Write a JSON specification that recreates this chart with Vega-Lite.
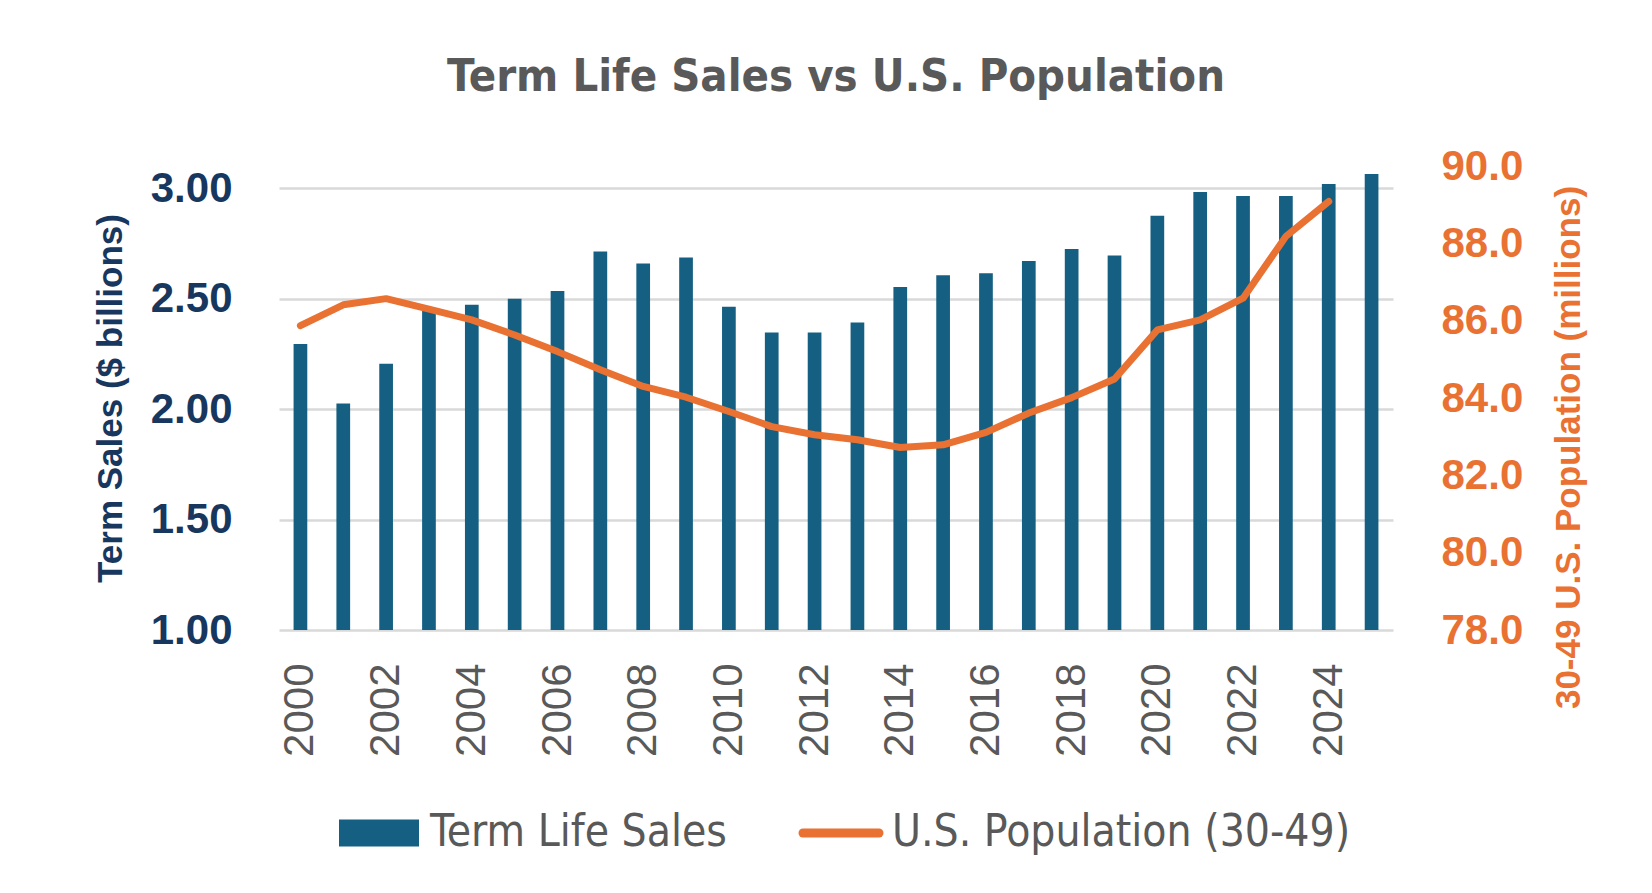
{
  "$schema": "https://vega.github.io/schema/vega-lite/v6.json",
  "width": 1114,
  "height": 464,
  "autosize": {"type": "none"},
  "padding": {"left": 279, "top": 166, "right": 259, "bottom": 263},
  "background": "white",
  "title": {
    "text": "Term Life Sales vs U.S. Population",
    "font": "DejaVu Sans Condensed",
    "fontWeight": "bold",
    "fontSize": 45,
    "color": "#595959",
    "frame": "group",
    "anchor": "middle",
    "baseline": "alphabetic",
    "offset": 9
  },
  "config": {
    "view": {"stroke": null},
    "font": "Liberation Sans"
  },
  "data": {
    "values": [
      {"year": 2000, "sales": 2.294, "pop": 85.87},
      {"year": 2001, "sales": 2.025, "pop": 86.41},
      {"year": 2002, "sales": 2.205, "pop": 86.57},
      {"year": 2003, "sales": 2.45, "pop": 86.30},
      {"year": 2004, "sales": 2.472, "pop": 86.02},
      {"year": 2005, "sales": 2.499, "pop": 85.63},
      {"year": 2006, "sales": 2.534, "pop": 85.20},
      {"year": 2007, "sales": 2.713, "pop": 84.73},
      {"year": 2008, "sales": 2.659, "pop": 84.30},
      {"year": 2009, "sales": 2.686, "pop": 84.02},
      {"year": 2010, "sales": 2.463, "pop": 83.65},
      {"year": 2011, "sales": 2.347, "pop": 83.26},
      {"year": 2012, "sales": 2.347, "pop": 83.05},
      {"year": 2013, "sales": 2.392, "pop": 82.92},
      {"year": 2014, "sales": 2.552, "pop": 82.72},
      {"year": 2015, "sales": 2.606, "pop": 82.79},
      {"year": 2016, "sales": 2.615, "pop": 83.11},
      {"year": 2017, "sales": 2.670, "pop": 83.61},
      {"year": 2018, "sales": 2.724, "pop": 84.01},
      {"year": 2019, "sales": 2.695, "pop": 84.49},
      {"year": 2020, "sales": 2.875, "pop": 85.76},
      {"year": 2021, "sales": 2.982, "pop": 86.02},
      {"year": 2022, "sales": 2.964, "pop": 86.58},
      {"year": 2023, "sales": 2.964, "pop": 88.18},
      {"year": 2024, "sales": 3.019, "pop": 89.08},
      {"year": 2025, "sales": 3.064, "pop": null}
    ]
  },
  "encoding": {
    "x": {
      "field": "year",
      "type": "ordinal",
      "scale": {"paddingInner": 0.68, "paddingOuter": 0.34},
      "axis": {
        "title": null,
        "values": [2000, 2002, 2004, 2006, 2008, 2010, 2012, 2014, 2016, 2018, 2020, 2022, 2024],
        "labelAngle": 270,
        "labelFontSize": 42,
        "labelFont": "Liberation Sans",
        "labelColor": "#595959",
        "labelPadding": 33,
        "ticks": false,
        "tickSize": 0,
        "domain": false,
        "grid": false
      }
    }
  },
  "layer": [
    {
      "mark": {"type": "bar"},
      "encoding": {
        "y": {
          "field": "sales",
          "type": "quantitative",
          "scale": {"domain": [1, 3.1], "zero": false, "nice": false},
          "axis": {
            "orient": "left",
            "values": [1, 1.5, 2, 2.5, 3],
            "format": ".2f",
            "title": "Term Sales ($ billions)",
            "titleFont": "Liberation Sans",
            "titleFontSize": 35,
            "titleFontWeight": "bold",
            "titleColor": "#17375E",
            "titleAngle": 270,
            "titleAlign": "center",
            "titleBaseline": "middle",
            "titleX": -169,
            "titleY": 232,
            "labelFont": "Liberation Sans",
            "labelFontSize": 42,
            "labelFontWeight": "bold",
            "labelColor": "#17375E",
            "labelPadding": 47,
            "ticks": false,
            "tickSize": 0,
            "domain": false,
            "grid": true,
            "gridColor": "#d9d9d9",
            "gridWidth": 2.5
          }
        },
        "y2": {"datum": 1},
        "color": {
          "datum": "Term Life Sales",
          "type": "nominal",
          "scale": {
            "domain": ["Term Life Sales", "U.S. Population (30-49)"],
            "range": ["#156082", "#E97132"]
          },
          "legend": {
            "title": null,
            "orient": "none",
            "legendX": 78,
            "legendY": 645,
            "direction": "horizontal",
            "columns": 2,
            "columnPadding": 58,
            "padding": 0,
            "symbolSize": 6400,
            "labelOffset": 29,
            "labelLimit": 0,
            "labelFont": "DejaVu Sans Condensed",
            "labelFontSize": 44,
            "labelColor": "#595959",
            "labelBaseline": "middle",
            "encode": {
              "symbols": {
                "update": {
                  "shape": {"signal": "datum.value === 'Term Life Sales' ? 'M-1,-0.34H1V0.34H-1Z' : 'M-0.95,0H0.95'"},
                  "fill": {"signal": "datum.value === 'Term Life Sales' ? '#156082' : 'transparent'"},
                  "stroke": {"signal": "datum.value === 'Term Life Sales' ? 'transparent' : '#E97132'"},
                  "strokeWidth": {"signal": "datum.value === 'Term Life Sales' ? 0 : 9"},
                  "strokeCap": {"value": "round"},
                  "opacity": {"value": 1}
                }
              }
            }
          }
        }
      }
    },
    {
      "transform": [{"filter": "datum.pop != null"}],
      "mark": {"type": "line", "strokeWidth": 7, "strokeCap": "round", "strokeJoin": "round"},
      "encoding": {
        "y": {
          "field": "pop",
          "type": "quantitative",
          "scale": {"domain": [78, 90], "zero": false, "nice": false},
          "axis": {
            "orient": "right",
            "values": [78, 80, 82, 84, 86, 88, 90],
            "format": ".1f",
            "title": "30-49 U.S. Population (millions)",
            "titleFont": "Liberation Sans",
            "titleFontSize": 35,
            "titleFontWeight": "bold",
            "titleColor": "#E97132",
            "titleAngle": 270,
            "titleAlign": "center",
            "titleBaseline": "middle",
            "titleX": 175,
            "titleY": 281,
            "labelFont": "Liberation Sans",
            "labelFontSize": 42,
            "labelFontWeight": "bold",
            "labelColor": "#E97132",
            "labelPadding": 48,
            "ticks": false,
            "tickSize": 0,
            "domain": false,
            "grid": false
          }
        },
        "color": {"datum": "U.S. Population (30-49)", "type": "nominal"}
      }
    }
  ],
  "resolve": {"scale": {"y": "independent"}}
}
